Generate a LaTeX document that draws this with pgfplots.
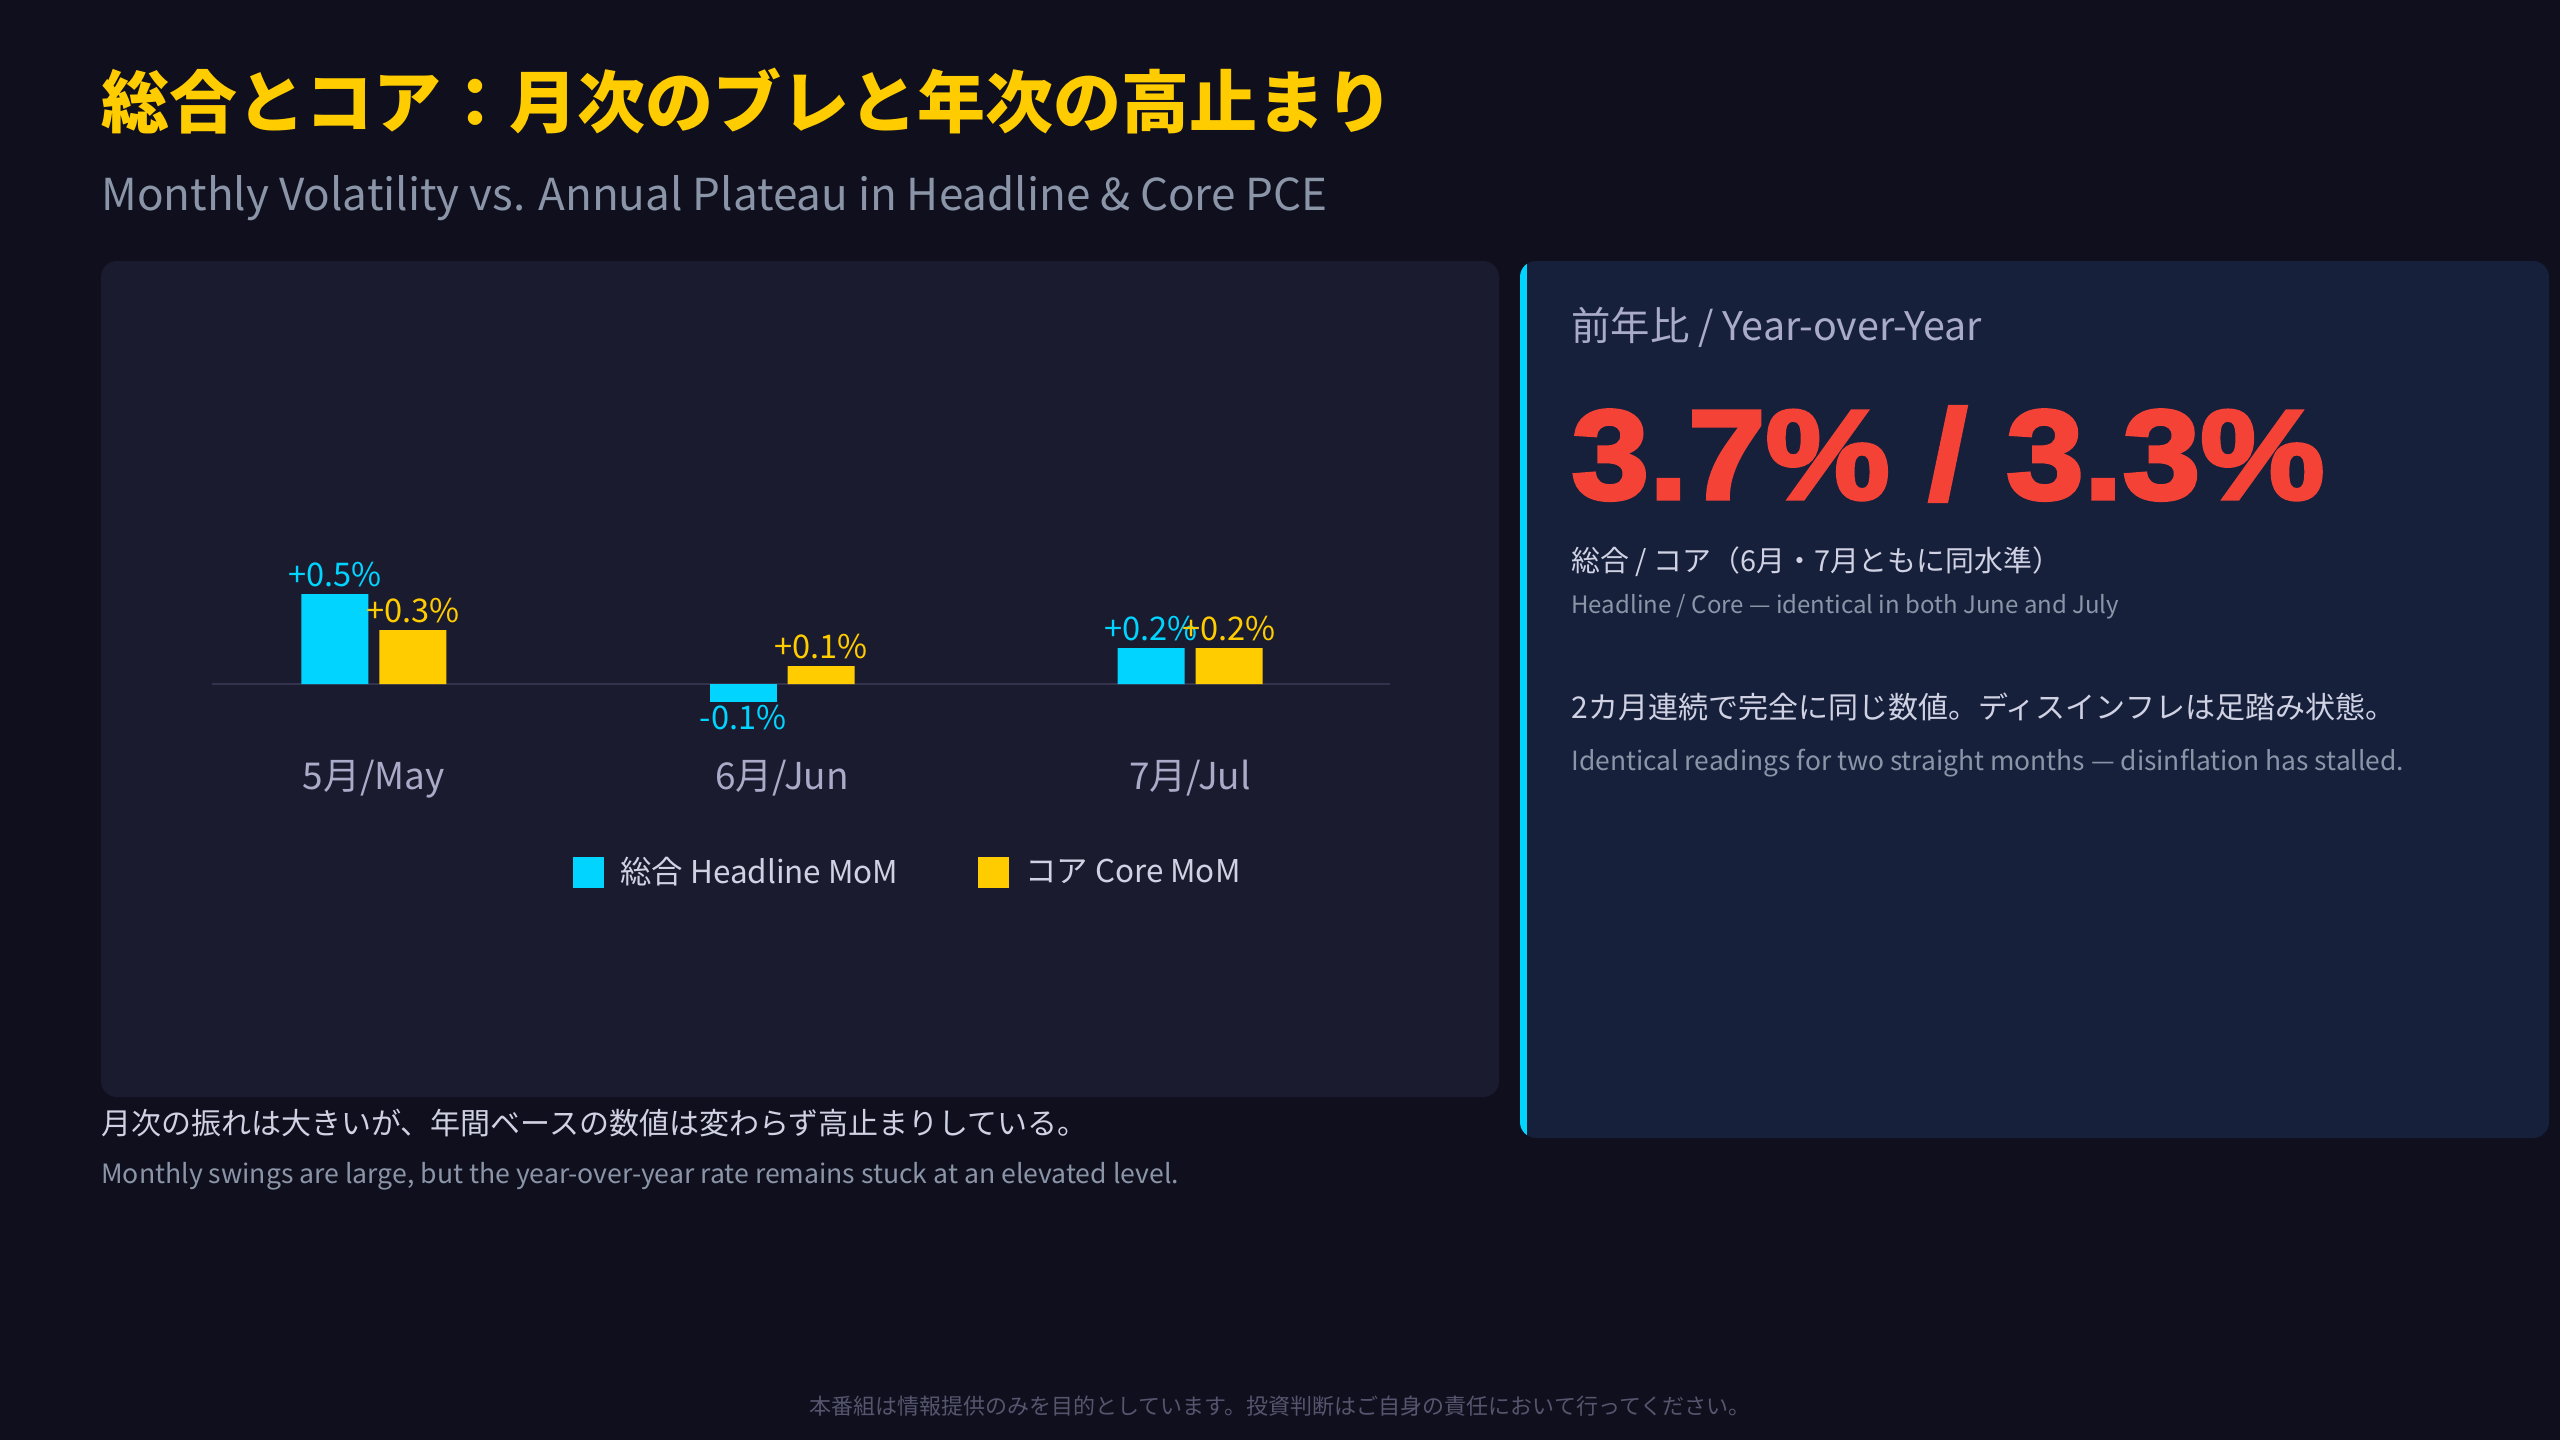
\documentclass[border=0pt]{standalone}
\usepackage{pgfplots}
\pgfplotsset{compat=1.18}
\usepackage{fontspec}
\setmainfont{Noto Sans CJK JP}
\newfontfamily\heavy{Liberation Sans}[FakeStretch=1.1, BoldFeatures={FakeBold=3}]

\definecolor{bg}{HTML}{0F0F1E}
\definecolor{panelL}{HTML}{1A1B2E}
\definecolor{panelR}{HTML}{16203B}
\definecolor{accentY}{HTML}{FFCC00}
\definecolor{accentC}{HTML}{00D4FF}
\definecolor{redN}{HTML}{F44336}
\definecolor{sub}{HTML}{8B95A8}
\definecolor{lav}{HTML}{A9ABC8}
\definecolor{lt}{HTML}{D0D2E4}
\definecolor{foot}{HTML}{55556E}
\definecolor{zero}{HTML}{33334D}

\newcommand\fs[1]{\fontsize{#1}{#1}\selectfont}

\begin{document}
\begin{tikzpicture}[x=0.5pt, y=-0.5pt]
\useasboundingbox (0,0) rectangle (2560,1440);
\fill[bg] (0,0) rectangle (2560,1440);

% titles
\node[anchor=west, inner sep=0pt, text=accentY, font=\fs{34}\bfseries] at (101,101) {総合とコア：月次のブレと年次の高止まり};
\node[anchor=west, inner sep=0pt, text=sub, font=\fs{22}] at (101,198) {Monthly Volatility vs. Annual Plateau in Headline \& Core PCE};

% panels
\fill[panelL, rounded corners=8pt] (101,261) rectangle (1499,1097);
\fill[panelR, rounded corners=8pt] (1520,261) rectangle (2549,1138);
\begin{scope}
  \clip[rounded corners=8pt] (1520,261) rectangle (2549,1138);
  \fill[accentC] (1520,261) rectangle (1527,1138);
\end{scope}

% chart
\coordinate (A) at (212,747);
\begin{axis}[
  at={(A)}, anchor=south west,
  scale only axis, width=589pt, height=103.5pt,
  xmin=-0.397, xmax=2.49, ymin=-0.35, ymax=0.8,
  ybar, bar width=33.5pt,
  axis line style={draw=none}, major tick length=0pt,
  ytick=\empty,
  xtick={0,1,2}, xticklabels={5月/May,6月/Jun,7月/Jul},
  xticklabel style={font=\fs{18.5}, text=lav, yshift=-3pt},
  extra y ticks={0}, extra y tick labels={},
  extra y tick style={grid=major, major grid style={zero, line width=1pt}},
  nodes near coords, point meta=explicit symbolic,
  clip=false,
  legend columns=2,
  legend image code/.code={\fill[#1] (0pt,-7.75pt) rectangle (15.5pt,7.75pt);},
  legend style={at={(0.3065,-0.604)}, anchor=west, draw=none, fill=none,
    inner sep=0pt, font=\fs{15.7}, text=lt,
    nodes={inner sep=0pt, anchor=west}, column sep=8pt,
    /tikz/every even column/.append style={column sep=40pt}},
]
\addplot[fill=accentC, draw=none, bar shift=-19.5pt,
  every node near coord/.append style={text=accentC, font=\fs{16.3}}]
  coordinates {(0,0.5) [+0.5\%] (2,0.2) [+0.2\%]};
\addlegendentry{総合 Headline MoM}
\addplot[fill=accentY, draw=none, bar shift=19.5pt,
  every node near coord/.append style={text=accentY, font=\fs{16.3}}]
  coordinates {(0,0.3) [+0.3\%] (1,0.1) [+0.1\%] (2,0.2) [+0.2\%]};
\addlegendentry{コア Core MoM}
\addplot[forget plot, fill=accentC, draw=none, bar shift=-19.5pt,
  every node near coord/.append style={text=accentC, font=\fs{16.3}, anchor=north, yshift=2pt}]
  coordinates {(1,-0.1) [-0.1\%]};
\end{axis}

% right panel text
\node[anchor=west, inner sep=0pt, text=lav, font=\fs{19.7}] at (1571,327) {前年比 / Year-over-Year};
\node[anchor=west, inner sep=0pt, text=redN, font=\heavy\bfseries\fs{63.5}] at (1571,454) {3.7\% / 3.3\%};
\node[anchor=west, inner sep=0pt, text=lt, font=\fs{14.45}] at (1571,562) {総合 / コア（6月・7月ともに同水準）};
\node[anchor=west, inner sep=0pt, text=sub, font=\fs{12}] at (1571,607) {Headline / Core — identical in both June and July};
\node[anchor=west, inner sep=0pt, text=lt, font=\fs{15}] at (1571,707) {2カ月連続で完全に同じ数値。ディスインフレは足踏み状態。};
\node[anchor=west, inner sep=0pt, text=sub, font=\fs{13.2}] at (1571,763) {Identical readings for two straight months — disinflation has stalled.};

% bottom notes
\node[anchor=west, inner sep=0pt, text=lt, font=\fs{15}] at (101,1123) {月次の振れは大きいが、年間ベースの数値は変わらず高止まりしている。};
\node[anchor=west, inner sep=0pt, text=sub, font=\fs{13.3}] at (101,1176) {Monthly swings are large, but the year-over-year rate remains stuck at an elevated level.};
\node[inner sep=0pt, text=foot, font=\fs{11}] at (1280,1406) {本番組は情報提供のみを目的としています。投資判断はご自身の責任において行ってください。};
\end{tikzpicture}
\end{document}
